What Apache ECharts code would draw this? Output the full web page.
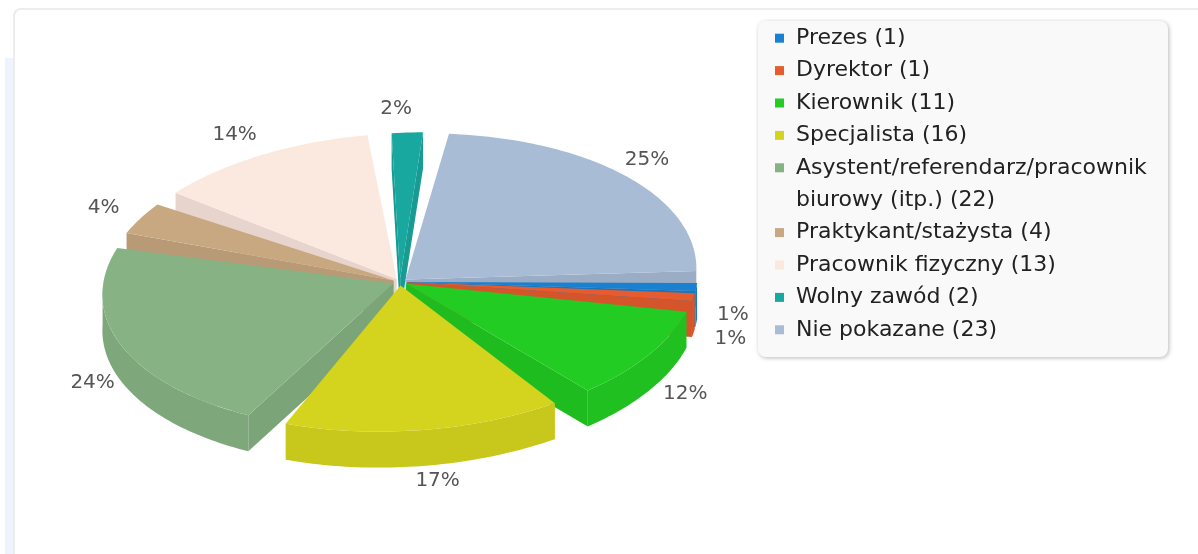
<!DOCTYPE html>
<html>
<head>
<meta charset="utf-8">
<script src="https://cdn.jsdelivr.net/npm/echarts@6/dist/echarts.min.js"></script>
<style>
html, body { margin: 0; padding: 0; background: #fff; overflow: hidden; }
#strip { position: absolute; left: 5px; top: 58px; width: 9px; height: 496px; background: #eef4fd; }
#panel { position: absolute; left: 13px; top: 8px; width: 1200px; height: 560px; border-top: 2px solid #ececec; border-left: 2px solid #ececec; border-top-left-radius: 8px; background: #fff; }
#chart { position: absolute; left: 0; top: 0; width: 1198px; height: 554px; }
</style>
</head>
<body>
<div id="strip"></div>
<div id="panel"></div>
<div id="chart"></div>
<script>
// dane
const categories = ['Prezes', 'Dyrektor', 'Kierownik', 'Specjalista', 'Asystent/referendarz/pracownik biurowy (itp.)', 'Praktykant/stażysta', 'Pracownik fizyczny', 'Wolny zawód', 'Nie pokazane']
const counts = [1, 1, 11, 16, 22, 4, 13, 2, 23]
const colors = ['#1a80d0', '#e65c2e', '#22cc22', '#d4d41e', '#87b284', '#c8a880', '#fbe8df', '#19a8a0', '#a8bcd6']

// wygląd tortu 3D
const CX = 400
const CY = 282
const RX = 290
const RY = 146
const DEPTH = 36
const EXPLODE = 0.025
const SHEAR = 0.0755 // pochylenie rzutu (w jednostkach danych)
const GAP = 3.3 * Math.PI / 180
const LABEL_RX = 1.15
const LABEL_RY = 1.19
const LINE_H = 32.4
const LEGEND_TOP = 22

const total = counts.reduce((a, b) => a + b, 0)
const angles = []
let acc = 0
counts.forEach(v => {
  const a0 = acc / total * 2 * Math.PI
  acc += v
  angles.push([a0, acc / total * 2 * Math.PI])
})

function shade (hex, k) {
  const n = parseInt(hex.slice(1), 16)
  const r = Math.round(((n >> 16) & 255) * k)
  const g = Math.round(((n >> 8) & 255) * k)
  const b = Math.round((n & 255) * k)
  return 'rgb(' + r + ',' + g + ',' + b + ')'
}

function sliceGeom (i) {
  const [t0, t1] = angles[i]
  const tm = (t0 + t1) / 2
  const inset = Math.min(GAP, (t1 - t0) * 0.1)
  return { a: t0 + inset, b: t1 - inset, tm, ox: EXPLODE * Math.cos(tm), oy: -EXPLODE * Math.sin(tm) }
}

// punkt na płaszczyźnie tortu -> piksel
function project (api, x, y, shear = SHEAR) {
  return api.coord([x + shear * y, y])
}

function labelPoints (api) {
  const pts = []
  for (let j = 0; j < counts.length; j++) {
    const g = sliceGeom(j)
    const p = project(api, LABEL_RX * Math.cos(g.tm), -LABEL_RY * Math.sin(g.tm), SHEAR / 2)
    if (Math.sin(g.tm) > 0) p[1] += DEPTH * 0.75
    if (j > 0) {
      const q = pts[j - 1]
      if (Math.abs(p[0] - q[0]) < 45 && Math.abs(p[1] - q[1]) < 24) p[1] = q[1] + 24
    }
    pts.push(p)
  }
  return pts
}

function renderSlice (i, api) {
  const g = sliceGeom(i)
  const color = colors[i]
  const P = (t, r = 1) => project(api, g.ox + r * Math.cos(t), g.oy - r * Math.sin(t))
  const apex = P(0, 0)
  const mid = P(g.tm, 0.5)
  const arc = (from, to) => {
    const n = Math.max(2, Math.ceil((to - from) / 0.02))
    const pts = []
    for (let k = 0; k <= n; k++) pts.push(P(from + (to - from) * k / n))
    return pts
  }
  const down = p => [p[0], p[1] + DEPTH]
  const avgY = pts => Math.round(pts.reduce((s, p) => s + p[1], 0) / pts.length)
  const children = []

  // ściany boczne
  const wall = t => {
    const e = P(t)
    const ux = e[0] - apex[0]
    const uy = e[1] - apex[1]
    const cross = ux * (mid[1] - apex[1]) - uy * (mid[0] - apex[0])
    if (Math.abs(ux) < 0.5 || Math.sign(cross) === Math.sign(ux)) return
    children.push({
      type: 'polygon',
      z2: avgY([apex, e]),
      shape: { points: [apex, e, down(e), down(apex)] },
      style: { fill: shade(color, 0.92) }
    })
  }
  wall(g.a)
  wall(g.b)

  // zewnętrzny bok (przód)
  const d = Math.atan(SHEAR * RY / RX)
  const fronts = [[-d, Math.PI - d], [2 * Math.PI - d, 3 * Math.PI - d]]
  fronts.forEach(([lo, hi]) => {
    const f0 = Math.max(g.a, lo)
    const f1 = Math.min(g.b, hi)
    if (f1 > f0) {
      const top = arc(f0, f1)
      children.push({
        type: 'polygon',
        z2: avgY(top),
        shape: { points: top.concat(top.slice().reverse().map(down)) },
        style: { fill: shade(color, 0.94) }
      })
    }
  })

  // wierzch
  children.push({
    type: 'polygon',
    z2: 2000,
    shape: { points: [apex].concat(arc(g.a, g.b)) },
    style: { fill: color }
  })

  // etykieta procentowa
  const lp = labelPoints(api)[i]
  children.push({
    type: 'text',
    z2: 3000,
    x: lp[0],
    y: lp[1],
    style: {
      text: Math.round(counts[i] / total * 100) + '%',
      fontFamily: 'DejaVu Sans',
      fontSize: 20,
      fill: '#555',
      align: 'center',
      verticalAlign: 'middle'
    }
  })

  return { type: 'group', children }
}

const legendText = {
  fontFamily: 'DejaVu Sans',
  fontSize: 22,
  color: '#222',
  lineHeight: LINE_H,
  width: 368,
  overflow: 'break',
  padding: [0, 0, 0, 7]
}
function makeLegend (names, top, hideIcon) {
  return {
    orient: 'vertical',
    left: 775,
    top,
    padding: 0,
    itemWidth: 9,
    itemHeight: 9,
    itemGap: 0,
    icon: 'rect',
    selectedMode: false,
    formatter: name => name + ' (' + counts[categories.indexOf(name)] + ')',
    textStyle: legendText,
    data: names.map(name => hideIcon ? { name, itemStyle: { opacity: 0 } } : name)
  }
}

const myChart = echarts.init(document.getElementById('chart'))
const option = {
  animation: false,
  color: colors,
  grid: { left: CX - RX, top: CY - RY, width: 2 * RX, height: 2 * RY },
  xAxis: { type: 'value', min: -1, max: 1, show: false },
  yAxis: { type: 'value', min: -1, max: 1, show: false },
  graphic: [{
    type: 'rect',
    x: 758,
    y: 21,
    z: 0,
    silent: true,
    shape: { width: 410, height: 336, r: 8 },
    style: { fill: '#f9f9f9', shadowBlur: 4, shadowColor: 'rgba(0,0,0,0.28)', shadowOffsetX: 1, shadowOffsetY: 1 }
  }, {
    // znacznik dwuwierszowego wpisu, przy pierwszym wierszu
    type: 'rect',
    x: 775,
    y: LEGEND_TOP + 4.5 * LINE_H - 4.5,
    z: 5,
    silent: true,
    shape: { width: 9, height: 9 },
    style: { fill: colors[4] }
  }],
  legend: [
    makeLegend(categories.slice(0, 4), LEGEND_TOP, false),
    makeLegend(categories.slice(4, 5), LEGEND_TOP + 4 * LINE_H, true),
    makeLegend(categories.slice(5), LEGEND_TOP + 6 * LINE_H, false)
  ],
  series: categories.map((name, i) => ({
    name,
    type: 'custom',
    coordinateSystem: 'cartesian2d',
    data: [[0, 0]],
    itemStyle: { color: colors[i] },
    silent: true,
    renderItem: (params, api) => renderSlice(i, api)
  }))
}
myChart.setOption(option)
</script>
</body>
</html>
